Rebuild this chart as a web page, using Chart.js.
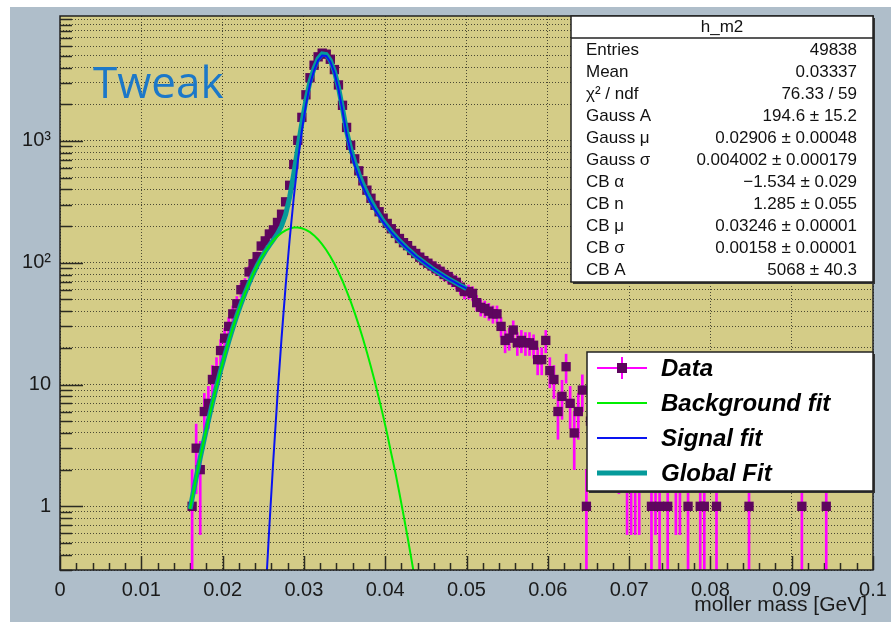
<!DOCTYPE html>
<html>
<head>
<meta charset="utf-8">
<title>h_m2 moller mass</title>
<script src="https://cdn.jsdelivr.net/npm/chart.js@4.4.1/dist/chart.umd.min.js"></script>
<style>
  html, body { margin: 0; padding: 0; background: #ffffff; }
  #wrap { width: 891px; height: 623px; }
</style>
</head>
<body>
<div id="wrap"><canvas id="massChart" width="891" height="623"></canvas></div>
<script>
// histogram h_m2 : bin centres [GeV] and counts (zero bins left out)
const binCentres = [
  0.01625, 0.01675, 0.01725, 0.01775, 0.01825, 0.01875, 0.01925, 0.01975,
  0.02025, 0.02075, 0.02125, 0.02175, 0.02225, 0.02275, 0.02325, 0.02375,
  0.02425, 0.02475, 0.02525, 0.02575, 0.02625, 0.02675, 0.02725, 0.02775,
  0.02825, 0.02875, 0.02925, 0.02975, 0.03025, 0.03075, 0.03125, 0.03175,
  0.03225, 0.03275, 0.03325, 0.03375, 0.03425, 0.03475, 0.03525, 0.03575,
  0.03625, 0.03675, 0.03725, 0.03775, 0.03825, 0.03875, 0.03925, 0.03975,
  0.04025, 0.04075, 0.04125, 0.04175, 0.04225, 0.04275, 0.04325, 0.04375,
  0.04425, 0.04475, 0.04525, 0.04575, 0.04625, 0.04675, 0.04725, 0.04775,
  0.04825, 0.04875, 0.04925, 0.04975, 0.05025, 0.05075, 0.05125, 0.05175,
  0.05225, 0.05275, 0.05325, 0.05375, 0.05425, 0.05475, 0.05525, 0.05575,
  0.05625, 0.05675, 0.05725, 0.05775, 0.05825, 0.05875, 0.05925, 0.05975,
  0.06025, 0.06075, 0.06125, 0.06175, 0.06225, 0.06275, 0.06325, 0.06375,
  0.06425, 0.06475, 0.06525, 0.06625, 0.06725, 0.06875, 0.06975, 0.07025,
  0.07075, 0.07125, 0.07275, 0.07325, 0.07375, 0.07475, 0.07575, 0.07625,
  0.07725, 0.07875, 0.07925, 0.08075, 0.08475, 0.09125, 0.09425
];
const binCounts = [
  1, 3, 2, 6, 7, 11, 13, 19,
  24, 30, 38, 46, 60, 66, 84, 98,
  112, 137, 151, 172, 186, 214, 250, 316,
  432, 640, 1010, 1560, 2390, 3300, 4180, 4900,
  5250, 5150, 4680, 3850, 2880, 1960, 1290, 920,
  712, 568, 470, 394, 338, 296, 262, 232,
  210, 190, 174, 158, 146, 138, 126, 119,
  111, 104, 99, 94, 89, 85, 80, 77,
  72, 69, 63, 58, 58, 56, 47, 43,
  42, 40, 38, 38, 30, 23, 24, 28,
  22, 23, 22, 22, 21, 16, 16, 23,
  13, 11, 6, 8, 14, 7, 4, 6,
  9, 1, 5, 4, 4, 3, 2, 2,
  2, 2, 1, 2, 1, 1, 2, 2,
  1, 1, 1, 1, 1, 1, 1
];

// fit curves read along the fit range 0.016 - 0.05
const fitX = [
  0.016, 0.01625, 0.01675, 0.01725, 0.01775, 0.01825, 0.01875, 0.01925,
  0.01975, 0.02025, 0.02075, 0.02125, 0.02175, 0.02225, 0.02275, 0.02325,
  0.02375, 0.02425, 0.02475, 0.02525, 0.02575, 0.02625, 0.02675, 0.02725,
  0.02775, 0.02825, 0.02875, 0.02925, 0.02975, 0.03025, 0.03075, 0.03125,
  0.03175, 0.03225, 0.03275, 0.03325, 0.03375, 0.03425, 0.03475, 0.03525,
  0.03575, 0.03625, 0.03675, 0.03725, 0.03775, 0.03825, 0.03875, 0.03925,
  0.03975, 0.04025, 0.04075, 0.04125, 0.04175, 0.04225, 0.04275, 0.04325,
  0.04375, 0.04425, 0.04475, 0.04525, 0.04575, 0.04625, 0.04675, 0.04725,
  0.04775, 0.04825, 0.04875, 0.04925, 0.04975, 0.05
];
const backgroundFit = [
  0.95, 1.16, 1.72, 2.50, 3.59, 5.07, 7.05, 9.65,
  13.0, 17.2, 22.5, 29.0, 36.7, 45.7, 56.1, 67.8,
  80.7, 94.5, 109.0, 123.7, 138.2, 152.1, 164.7, 175.7,
  184.4, 190.6, 194.4, 194.4, 191.7, 186.2, 178.0, 167.6,
  155.2, 141.5, 127.2, 112.6, 97.9, 83.9, 70.8, 58.8,
  48.1, 38.7, 30.7, 24.0, 18.4, 13.9, 10.4, 7.6,
  5.5, 3.9, 2.7, 1.9, 1.28, 0.85, 0.56, 0.36,
  0.23, 0.144, 0.089, 0.054, 0.032, 0.019, 0.011, 0.006,
  0.0034, 0.0019, 0.001, 0.0005, 0.0003, 0.0002
];
const signalFit = [
  null, null, null, null, null, null, null, null,
  null, null, null, null, null, null, null, 0.00025,
  0.0015, 0.0079, 0.039, 0.17, 0.68, 2.47, 8.1, 24.0,
  64.2, 155.8, 341.2, 677.6, 1215, 1974, 2899, 3780,
  4582, 5023, 4983, 4472, 3632, 2667, 1773, 1141,
  818, 628, 505, 418, 355, 307, 270, 240,
  215, 195, 177.6, 163, 150, 139, 129.6, 121,
  113, 106.6, 100.6, 95, 90, 85.5, 81.5, 77.6,
  74.1, 70.9, 67.9, 65.1, 62.6, 61.4
];
const globalFit = [
  0.95, 1.16, 1.72, 2.50, 3.59, 5.07, 7.05, 9.65,
  13.0, 17.2, 22.5, 29.0, 36.7, 45.7, 56.1, 67.8,
  80.7, 94.5, 109.0, 123.9, 138.9, 154.6, 172.8, 199.7,
  248.6, 346.4, 535.6, 872.1, 1406.7, 2160, 3077, 3948,
  4737, 5165, 5110, 4585, 3730, 2751, 1844, 1200,
  866, 667, 536, 442, 373, 321, 280, 248,
  220, 199, 180, 165, 151, 140, 130, 121.4,
  113.2, 106.7, 100.7, 95, 90, 85.5, 81.5, 77.6,
  74.1, 70.9, 67.9, 65.1, 62.6, 61.4
];

const xTickValues = [0, 0.01, 0.02, 0.03, 0.04, 0.05, 0.06, 0.07, 0.08, 0.09, 0.1];
const xTickLabels = ['0', '0.01', '0.02', '0.03', '0.04', '0.05', '0.06', '0.07', '0.08', '0.09', '0.1'];
const yLabelValues = [1, 10, 100, 1000];
const yLabelTexts = ['1', '10', '10\u00b2', '10\u00b3'];
const xTitle = 'moller mass [GeV]';

const statsTitle = 'h_m2';
const statsNames = ['Entries', 'Mean', '\u03c7\u00b2 / ndf', 'Gauss A', 'Gauss \u03bc', 'Gauss \u03c3',
  'CB \u03b1', 'CB n', 'CB \u03bc', 'CB \u03c3', 'CB A'];
const statsValues = ['49838', '0.03337', '76.33 / 59', '194.6 \u00b1 15.2', '0.02906 \u00b1 0.00048',
  '0.004002 \u00b1 0.000179', '\u22121.534 \u00b1 0.029', '1.285 \u00b1 0.055', '0.03246 \u00b1 0.00001',
  '0.00158 \u00b1 0.00001', '5068 \u00b1 40.3'];
const legendLabels = ['Data', 'Background fit', 'Signal fit', 'Global Fit'];
const tagText = 'Tweak';

// colours
const markerColor = '#5e065e';
const errorColor = '#ff00ff';
const bgColor = '#00ee00';
const sigColor = '#0a14f0';
const globalColor = '#059a9a';
const frameFill = '#d4cc87';
const padFill = '#afbeca';
const axisFont = '"Liberation Sans", Arial, sans-serif';

// grid positions of the log axis (1..9 per decade)
const yGridValues = [];
for (let e = -1; e <= 3; e++) {
  for (let m = 1; m <= 9; m++) {
    const v = Math.round(m * Math.pow(10, e) * 1000) / 1000;
    if (v >= 0.3) yGridValues.push(v);
  }
}
yGridValues.push(10000);

const histPoints = binCentres.map((x, i) => ({x: x, y: binCounts[i]}));
const errorBars = binCentres.map((x, i) => {
  const n = binCounts[i];
  const lo = n - Math.sqrt(n);
  return {x: x, y: [lo > 0 ? lo : 0.001, n + Math.sqrt(n)]};
});
const toPoints = arr => fitX.map((x, i) => ({x: x, y: arr[i]}));

const rootLook = {
  id: 'rootLook',
  beforeDraw(chart) {
    const ctx = chart.ctx, a = chart.chartArea;
    ctx.save();
    ctx.fillStyle = '#ffffff';
    ctx.fillRect(0, 0, chart.width, chart.height);
    ctx.fillStyle = padFill;
    ctx.fillRect(10, 7, chart.width - 10, 615);
    ctx.fillStyle = frameFill;
    ctx.fillRect(a.left, a.top, a.right - a.left, a.bottom - a.top);
    ctx.restore();
  },
  beforeDatasetsDraw(chart) {
    const ctx = chart.ctx, a = chart.chartArea;
    const xs = chart.scales.x, ys = chart.scales.y;
    ctx.save();
    ctx.strokeStyle = '#2b2b22';
    ctx.lineWidth = 1.5;
    ctx.beginPath();
    for (let i = 0; i <= 50; i++) {
      const px = Math.round(xs.getPixelForValue(i * 0.002)) + 0.5;
      const len = i % 5 === 0 ? 14 : 7;
      ctx.moveTo(px, a.bottom);
      ctx.lineTo(px, a.bottom - len);
    }
    yGridValues.forEach(v => {
      const py = Math.round(ys.getPixelForValue(v)) + 0.5;
      const len = yLabelValues.indexOf(v) >= 0 ? 23 : 12;
      ctx.moveTo(a.left, py);
      ctx.lineTo(a.left + len, py);
    });
    ctx.stroke();
    ctx.restore();
  },
  afterDatasetsDraw(chart) {
    const ctx = chart.ctx, a = chart.chartArea;
    ctx.save();
    ctx.strokeStyle = '#222';
    ctx.lineWidth = 1.5;
    ctx.strokeRect(a.left, a.top, a.right - a.left, a.bottom - a.top);
    ctx.restore();
  },
  afterDraw(chart) {
    const ctx = chart.ctx, a = chart.chartArea;
    ctx.save();

    // tag
    ctx.fillStyle = '#1c78c8';
    ctx.font = '44px "Open Sans", sans-serif';
    ctx.textBaseline = 'alphabetic';
    ctx.textAlign = 'left';
    ctx.fillText(tagText, 93, 98);

    // axis title
    ctx.fillStyle = '#1a1a1a';
    ctx.font = '21px ' + axisFont;
    ctx.textAlign = 'right';
    ctx.textBaseline = 'middle';
    ctx.fillText(xTitle, 867, 605);

    // stats box
    const sx = 571, sy = a.top, sw = a.right - 571, sh = 266;
    ctx.fillStyle = '#333';
    ctx.fillRect(sx + 2, sy + 2, sw, sh);
    ctx.fillStyle = '#ffffff';
    ctx.fillRect(sx, sy, sw, sh);
    ctx.strokeStyle = '#222';
    ctx.lineWidth = 1.5;
    ctx.strokeRect(sx, sy, sw, sh);
    ctx.beginPath();
    ctx.moveTo(sx, sy + 22);
    ctx.lineTo(sx + sw, sy + 22);
    ctx.stroke();
    ctx.fillStyle = '#111';
    ctx.font = '17px ' + axisFont;
    ctx.textAlign = 'center';
    ctx.fillText(statsTitle, sx + sw / 2, sy + 11);
    statsNames.forEach((name, i) => {
      const ry = 50 + i * 22;
      ctx.textAlign = 'left';
      ctx.fillText(name, 586, ry);
      ctx.textAlign = 'right';
      ctx.fillText(statsValues[i], 857, ry);
    });

    // legend box
    const lx = 587, ly = 352, lw = a.right - 587, lh = 139;
    ctx.fillStyle = '#333';
    ctx.fillRect(lx + 2, ly + 2, lw, lh);
    ctx.fillStyle = '#ffffff';
    ctx.fillRect(lx, ly, lw, lh);
    ctx.strokeStyle = '#222';
    ctx.lineWidth = 1.5;
    ctx.strokeRect(lx, ly, lw, lh);
    const rows = [368, 403, 438, 473];
    const styles = [
      {c: errorColor, w: 2}, {c: bgColor, w: 2}, {c: sigColor, w: 2}, {c: globalColor, w: 5}
    ];
    rows.forEach((ry, i) => {
      ctx.strokeStyle = styles[i].c;
      ctx.lineWidth = styles[i].w;
      ctx.beginPath();
      ctx.moveTo(597, ry);
      ctx.lineTo(647, ry);
      if (i === 0) {
        ctx.moveTo(622, ry - 11);
        ctx.lineTo(622, ry + 11);
      }
      ctx.stroke();
      if (i === 0) {
        ctx.fillStyle = markerColor;
        ctx.fillRect(617, ry - 5, 10, 10);
      }
      ctx.fillStyle = '#000';
      ctx.font = 'italic bold 24px ' + axisFont;
      ctx.textAlign = 'left';
      ctx.textBaseline = 'middle';
      ctx.fillText(legendLabels[i], 661, ry + 1);
    });
    ctx.restore();
  }
};

new Chart(document.getElementById('massChart'), {
  type: 'scatter',
  data: {
    datasets: [
      {
        type: 'line', label: 'Signal fit', data: toPoints(signalFit),
        borderColor: sigColor, borderWidth: 2, pointRadius: 0, fill: false, tension: 0, clip: 0
      },
      {
        type: 'line', label: 'Background fit', data: toPoints(backgroundFit),
        borderColor: bgColor, borderWidth: 2, pointRadius: 0, fill: false, tension: 0, clip: 0
      },
      {
        type: 'line', label: 'Global Fit', data: toPoints(globalFit),
        borderColor: globalColor, borderWidth: 5, pointRadius: 0, fill: false, tension: 0, clip: 0
      },
      {
        type: 'scatter', label: 'Data', data: histPoints,
        pointStyle: 'rect', pointRadius: 6.6, backgroundColor: markerColor, borderWidth: 0
      },
      {
        type: 'bar', label: 'Data errors', data: errorBars,
        backgroundColor: errorColor, barThickness: 2, borderWidth: 0, grouped: false, clip: 0
      }
    ]
  },
  options: {
    responsive: false,
    animation: false,
    devicePixelRatio: 1,
    layout: {padding: {top: 16, right: 18, left: 0, bottom: 0}},
    plugins: {legend: {display: false}, tooltip: {enabled: false}},
    scales: {
      x: {
        type: 'linear', min: 0, max: 0.1, offset: false,
        afterBuildTicks: s => { s.ticks = xTickValues.map(v => ({value: v})); },
        afterFit: s => { s.height = 53; s.paddingLeft = 0; s.paddingRight = 0; },
        ticks: {
          autoSkip: false, maxRotation: 0, padding: 8, color: '#1a1a1a',
          font: {family: axisFont, size: 20},
          callback: (v, i) => xTickLabels[i]
        },
        grid: {color: 'rgba(40,40,30,0.8)', lineWidth: 1, drawTicks: false, offset: false},
        border: {display: false, dash: [1, 2]}
      },
      y: {
        type: 'logarithmic', min: 0.3, max: 10600,
        afterBuildTicks: s => { s.ticks = yGridValues.map(v => ({value: v})); },
        afterFit: s => { s.width = 60; s.paddingTop = 0; s.paddingBottom = 0; },
        ticks: {
          autoSkip: false, padding: 9, color: '#1a1a1a',
          font: {family: axisFont, size: 20},
          callback: v => {
            const i = yLabelValues.indexOf(v);
            return i >= 0 ? yLabelTexts[i] : '';
          }
        },
        grid: {color: 'rgba(40,40,30,0.8)', lineWidth: 1, drawTicks: false},
        border: {display: false, dash: [1, 2]}
      }
    }
  },
  plugins: [rootLook]
});
</script>
</body>
</html>
